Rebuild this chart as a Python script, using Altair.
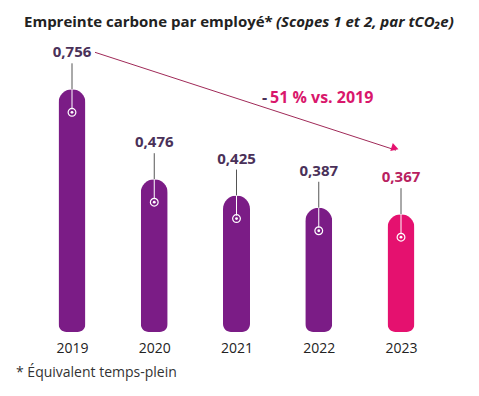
import altair as alt
import pandas as pd

years = ["2019", "2020", "2021", "2022", "2023"]
values = [0.756, 0.476, 0.425, 0.387, 0.367]
value_labels = ["0,756", "0,476", "0,425", "0,387", "0,367"]

title_main = "Empreinte carbone par employé*"
title_sub = "(Scopes 1 et 2, par tCO₂e)"
footnote = "* Équivalent temps-plein"
delta_dash = "-"
delta_text = "51 % vs. 2019"

PURPLE = "#7b1c86"
PINK = "#e5116f"
LABEL_DARK = "#4a3159"
LABEL_PINK = "#b8215f"
FONT = "Open Sans"

df = pd.DataFrame({"year": years, "value": values, "label": value_labels})
arrow_df = pd.DataFrame({"x": [years[0]], "x2": [years[-1]], "y": [values[0]], "y2": [values[-1]]})
one = pd.DataFrame({"a": [0]})

W, H = 463, 324
xs = alt.Scale(type="point", domain=years, range=[64, 393], padding=0)
ys = alt.Scale(domain=[0, H / 321.0], nice=False, zero=True)
is_last = alt.datum.year == years[-1]

base = alt.Chart(df)
x_enc = alt.X("year:N", scale=xs, title=None,
              axis=alt.Axis(domain=False, ticks=False, grid=False, labelAngle=0,
                            labelFont=FONT, labelFontSize=14, labelColor="#222222",
                            labelPadding=9))
y_enc = alt.Y("value:Q", scale=ys, axis=None)

bars = base.mark_bar(size=27, cornerRadiusTopLeft=13.5, cornerRadiusTopRight=13.5,
                     cornerRadiusBottomLeft=8, cornerRadiusBottomRight=8).encode(
    x=x_enc, y=y_enc,
    color=alt.condition(is_last, alt.value(PINK), alt.value(PURPLE)))

grey_line = base.mark_rule(color="#555555", strokeWidth=1, yOffset=-26, y2Offset=0).encode(
    x=alt.X("year:N", scale=xs), y=y_enc, y2="value:Q")
white_line = base.mark_rule(color="white", strokeWidth=1, yOffset=0, y2Offset=20).encode(
    x=alt.X("year:N", scale=xs), y=y_enc, y2="value:Q")
ring = base.mark_point(shape="circle", size=60, color="white", strokeWidth=1.2,
                       filled=False, yOffset=23, opacity=1).encode(
    x=alt.X("year:N", scale=xs), y=y_enc)
dot = base.mark_point(shape="circle", size=8, color="white", filled=True,
                      yOffset=23, opacity=1).encode(
    x=alt.X("year:N", scale=xs), y=y_enc)

labels = base.mark_text(font=FONT, fontSize=15, fontWeight="bold", dy=-37,
                        baseline="middle", align="center").encode(
    x=alt.X("year:N", scale=xs), y=y_enc, text="label:N",
    color=alt.condition(is_last, alt.value(LABEL_PINK), alt.value(LABEL_DARK)))

arrow = alt.Chart(arrow_df).mark_rule(color="#a02a58", strokeWidth=1,
                                      xOffset=23, yOffset=-37, x2Offset=-5, y2Offset=-64).encode(
    x=alt.X("x:N", scale=xs), x2="x2:N",
    y=alt.Y("y:Q", scale=ys), y2="y2:Q")
head = alt.Chart(arrow_df).mark_point(shape="triangle-right", size=70, filled=True,
                                      color=PINK, opacity=1, angle=17.6,
                                      xOffset=-6, yOffset=-66).encode(
    x=alt.X("x2:N", scale=xs), y=alt.Y("y2:Q", scale=ys))

t1 = alt.Chart(one).mark_text(text=title_main, font=FONT, fontSize=15, fontWeight="bold",
                              color="#222222", align="left", baseline="middle").encode(
    x=alt.value(16), y=alt.value(14))
t2 = alt.Chart(one).mark_text(text=title_sub, font=FONT, fontSize=15, fontWeight="bold",
                              fontStyle="italic", color="#222222", align="left",
                              baseline="middle").encode(
    x=alt.value(268), y=alt.value(14))
fn = alt.Chart(one).mark_text(text=footnote, font=FONT, fontSize=14, color="#333333",
                              align="left", baseline="middle").encode(
    x=alt.value(8), y=alt.value(365))
d1 = alt.Chart(one).mark_text(text=delta_dash, font=FONT, fontSize=16, fontWeight="bold",
                              color=LABEL_DARK, align="left", baseline="middle").encode(
    x=alt.value(254), y=alt.value(90))
d2 = alt.Chart(one).mark_text(text=delta_text, font=FONT, fontSize=16, fontWeight="bold",
                              color="#d9176c", align="left", baseline="middle").encode(
    x=alt.value(262), y=alt.value(90))

chart = alt.layer(bars, grey_line, white_line, ring, dot, labels, arrow, head,
                  t1, t2, fn, d1, d2).properties(
    width=W, height=H,
    background="white",
    autosize=alt.AutoSizeParams(type="none"),
    padding={"left": 0, "top": 0, "right": 0, "bottom": 56},
).configure_view(stroke=None)

chart.save("out.html", embed_options={"renderer": "svg", "actions": False})
